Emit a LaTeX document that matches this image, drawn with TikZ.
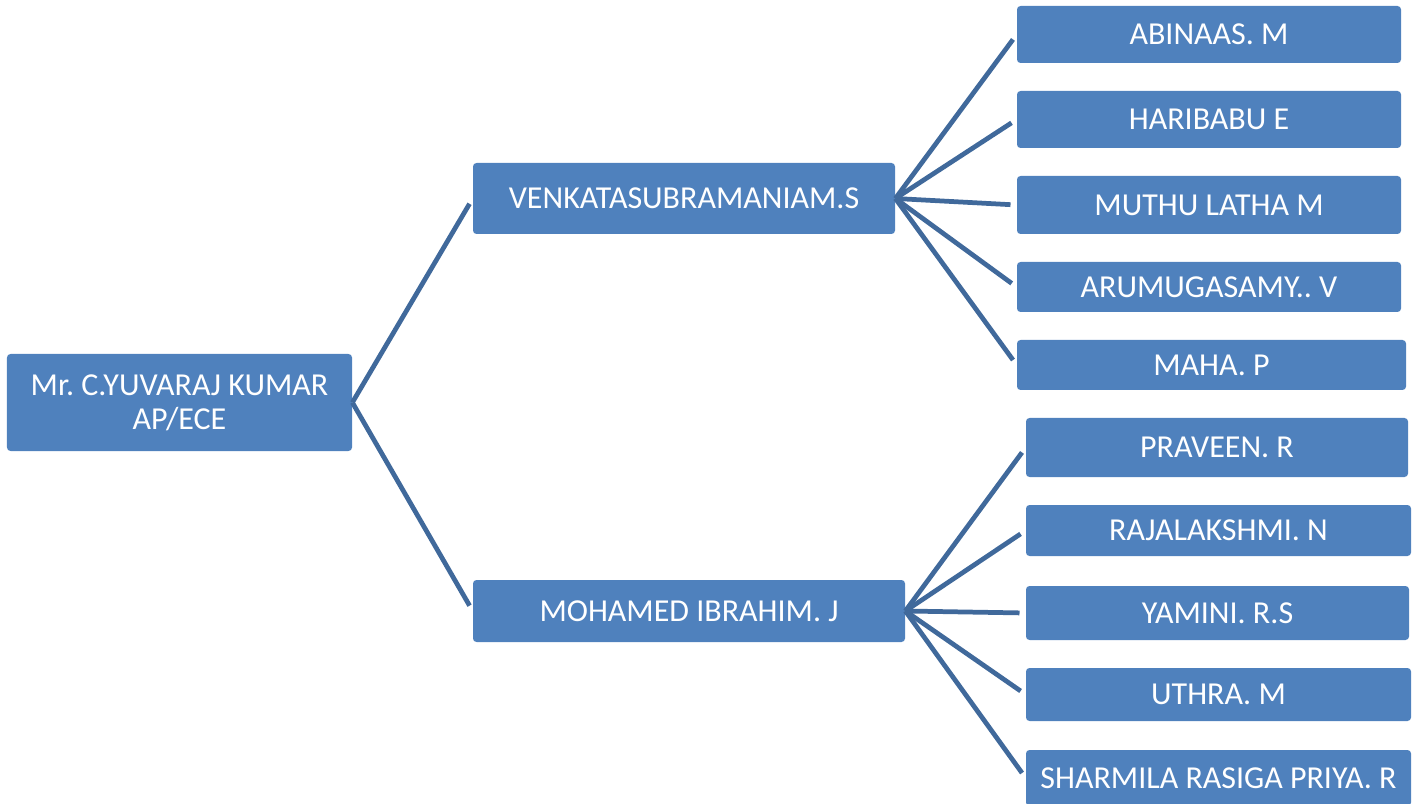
\documentclass[tikz,border=0pt]{standalone}
\usepackage{fontspec}
\setmainfont{Carlito}
\usepackage{tikz}
\usetikzlibrary{positioning}
\definecolor{boxblue}{HTML}{4F81BD}
\definecolor{lineblue}{HTML}{40699B}
\tikzset{>=stealth}
\frenchspacing

\begin{document}
\begin{tikzpicture}[x=0.2mm, y=-0.2mm,
  box/.style={rectangle, rounded corners=2pt, fill=boxblue, text=white, align=center,
    inner sep=0pt, font=\fontsize{18.2}{19.5}\selectfont},
  link/.style={lineblue, line width=2.7pt, shorten >=3.5pt}]

			\useasboundingbox (0,0) rectangle (1418,804);

			\node[box, minimum width=69mm, minimum height=19.4mm] (R) at (179.5,402.5) {Mr. C.YUVARAJ KUMAR\\AP/ECE};

			\node[box, minimum width=84.4mm, minimum height=14.2mm] (V) at (684,198.5) {VENKATASUBRAMANIAM.S};
			\node[box, minimum width=86.4mm, minimum height=12.4mm] (M) at (689,611) {MOHAMED IBRAHIM. J};

			\node[box, minimum width=76.8mm, minimum height=11.4mm] (V1) at (1209,34.5) {ABINAAS. M};
			\node[box, minimum width=76.8mm, minimum height=11.4mm] (V2) at (1209,119.5) {HARIBABU E};
			\node[box, minimum width=76.8mm, minimum height=11.6mm] (V3) at (1209,205) {MUTHU LATHA M};
			\node[box, minimum width=76.8mm, minimum height=10mm] (V4) at (1209,287) {ARUMUGASAMY.. V};
			\node[box, minimum width=77.8mm, minimum height=10mm] (V5) at (1211.5,365) {MAHA. P};

			\node[box, minimum width=76.4mm, minimum height=11.8mm] (M1) at (1217,447.5) {PRAVEEN. R};
			\node[box, minimum width=77mm, minimum height=10.2mm] (M2) at (1218.5,530.5) {RAJALAKSHMI. N};
			\node[box, minimum width=76.6mm, minimum height=10.8mm] (M3) at (1217.5,613) {YAMINI. R.S};
			\node[box, minimum width=77mm, minimum height=10.6mm] (M4) at (1218.5,694.5) {UTHRA. M};
			\node[box, minimum width=77mm, minimum height=11.2mm] (M5) at (1218.5,778) {SHARMILA RASIGA PRIYA. R};

			\draw [link] (R.east)--(V.west);
			\draw [link] (R.east)--(M.west);
			\draw [link] (V.east)--(V1.west);
			\draw [link] (V.east)--(V2.west);
			\draw [link] (V.east)--(V3.west);
			\draw [link] (V.east)--(V4.west);
			\draw [link] (V.east)--(V5.west);
			\draw [link] (M.east)--(M1.west);
			\draw [link] (M.east)--(M2.west);
			\draw [link] (M.east)--(M3.west);
			\draw [link] (M.east)--(M4.west);
			\draw [link] (M.east)--(M5.west);

			\end{tikzpicture}
\end{document}
